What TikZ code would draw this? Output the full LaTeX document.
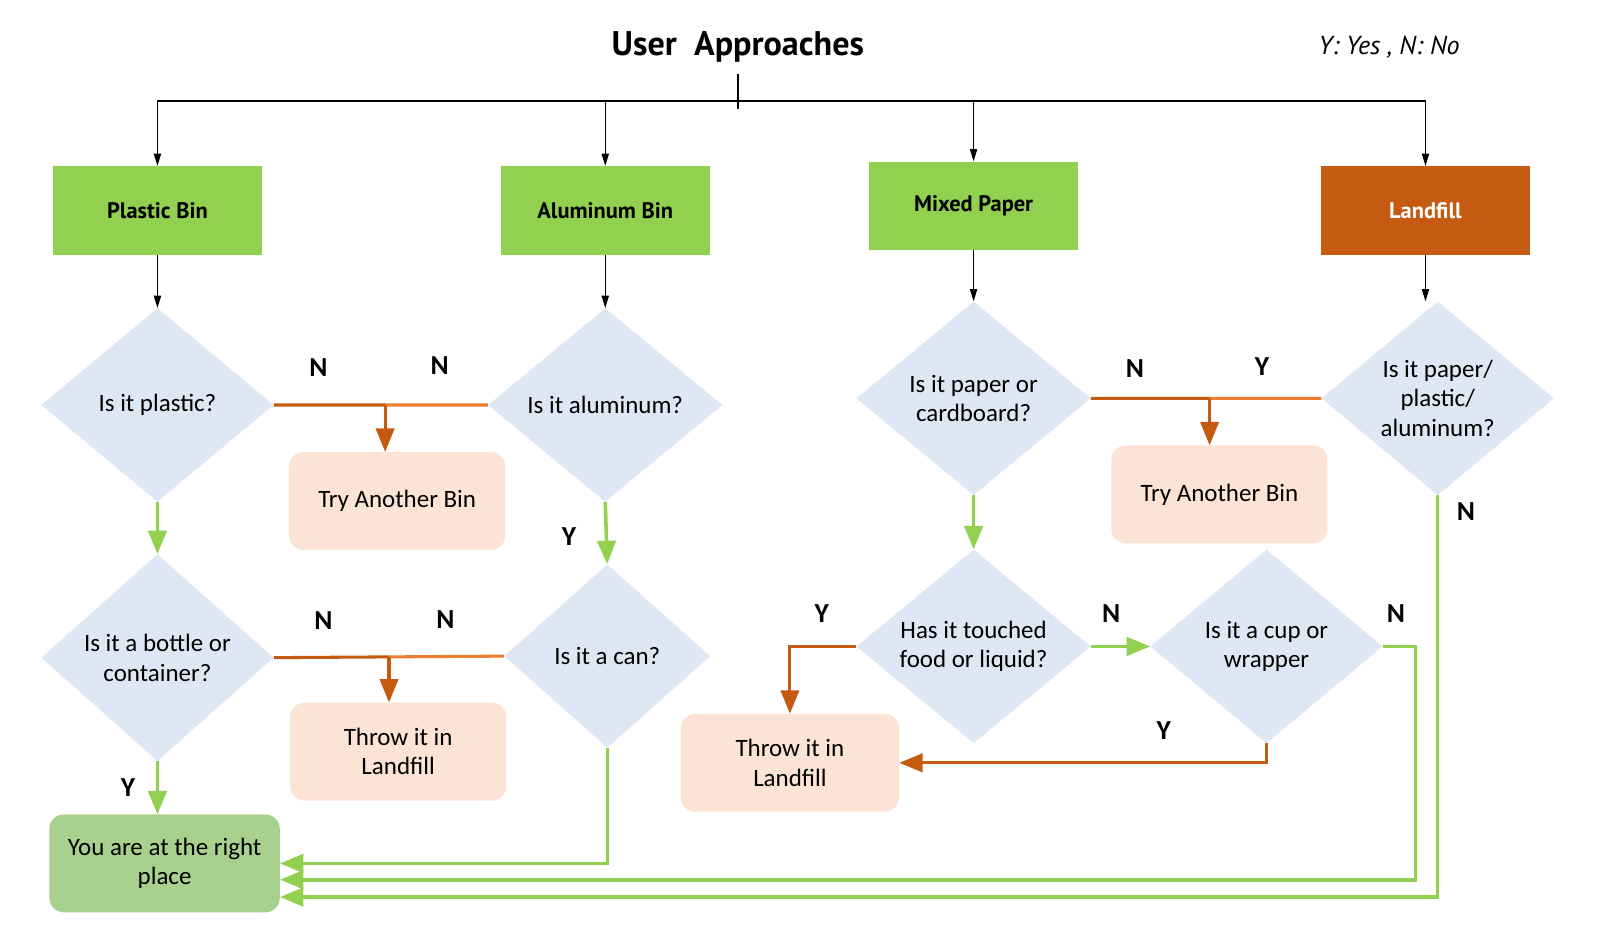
\documentclass[tikz,border=0pt]{standalone}
\usepackage{fontspec}
\setmainfont{Carlito}
\newfontfamily\headfont{PT Sans}
\usepackage{xcolor}
\usepackage{tikz}
\usetikzlibrary{shapes.geometric,arrows.meta}
\usetikzlibrary{positioning,calc}

\definecolor{bingreen}{HTML}{92D050}
\definecolor{binorange}{HTML}{C55A11}
\definecolor{lightorange}{HTML}{ED7D31}
\definecolor{askblue}{HTML}{DEE8F4}
\definecolor{peach}{HTML}{FBE4D5}
\definecolor{okgreen}{HTML}{A9D18E}

\tikzset{
  bin/.style={rectangle, fill=bingreen, minimum width=205pt, minimum height=87pt,
    font=\headfont\fontsize{22}{26}\selectfont\bfseries},
  ask/.style={diamond, fill=askblue, inner sep=0pt, shape aspect=1.2, align=center,
    minimum width=228pt, minimum height=190pt, font=\fontsize{24.5}{29}\selectfont},
  redo/.style={rectangle, rounded corners=14pt, fill=peach, minimum width=212pt,
    minimum height=96pt, align=center, font=\fontsize{24.5}{29}\selectfont},
  yn/.style={inner sep=0pt, font=\fontsize{27}{30}\selectfont\bfseries},
  feed/.style={draw=black, line width=1.3pt, -{Triangle[length=12pt,width=7pt]}},
  yesline/.style={draw=bingreen, line width=3.5pt, -{Triangle[length=23pt,width=18pt]}},
  noline/.style={draw=binorange, line width=3pt, -{Triangle[length=23pt,width=18pt]}},
  noplain/.style={draw=binorange, line width=3pt},
  nolight/.style={draw=lightorange, line width=3pt},
}

\begin{document}
\begin{tikzpicture}[x=1pt,y=-1pt,node distance=50pt]
\useasboundingbox (0,0) rectangle (1568,914.5);
\node[font=\headfont\fontsize{33.5}{38}\selectfont\bfseries] (title) at (724,46) {User\ \ Approaches};
\node[font=\headfont\fontsize{25.5}{30}\selectfont\itshape] (key) at (1363,46) {Y: Yes , N: No};
\coordinate (hub) at (724,99);
% the four bins
\node[bin] (pb) at (154.5,206.5) {Plastic Bin};
\node[bin] (ab) [right=234pt of pb] {Aluminum Bin};
\node[bin] (mp) [right=156pt of ab, yshift=4.5pt] {Mixed Paper};
\node[bin, fill=binorange, text=white] (lf) [right=238pt of mp, yshift=-4.5pt] {Landfill};
% questions
\node[ask] (qp) [below=52pt of pb] {Is it plastic?};
\node[ask, minimum width=230pt] (qa) [below=52pt of ab] {Is it aluminum?};
\node[ask, minimum height=203pt] (qb) [below=51pt of qp] {Is it a bottle or\\container?};
\node[ask, minimum width=202pt, minimum height=180pt] (qc) [below=61pt of qa, xshift=2pt] {Is it a can?};
\node[ask, minimum width=230pt] (qpc) [below=50pt of mp] {Is it paper or\\cardboard?};
\node[ask] (qppa) [below=45.5pt of lf, xshift=12pt] {Is it paper/\\plastic/\\aluminum?};
\node[ask, minimum width=230pt] (qf) [below=53pt of qpc] {Has it touched\\food or liquid?};
\node[ask] (qw) [right=58pt of qf] {Is it a cup or\\wrapper};
% outcomes
\node[redo] (try1) [below=46pt of qp.east, xshift=121pt] {Try Another Bin};
\node[redo] (thr1) [below=44pt of qb.east, xshift=122pt] {Throw it in\\Landfill};
\node[redo] (try2) [below=46pt of qpc.east, xshift=126pt] {Try Another Bin};
\node[redo, minimum width=214pt] (thr2) [below=66pt of qf.west, xshift=-65pt] {Throw it in\\Landfill};
\node[redo, fill=okgreen, minimum width=226pt] (ok) [below=52pt of qb, xshift=7pt] {You are at the right\\place};

\draw[line width=1.3pt] ([yshift=26pt]hub) -- ([yshift=-8pt]hub);
\draw[feed] (hub) -| (pb.north);
\draw[feed] (hub) -| (ab.north);
\draw[feed] (hub) -| (mp.north);
\draw[feed] (hub) -| (lf.north);
\path (pb) edge[feed] (qp);
\path (ab) edge[feed] (qa);
\path (mp) edge[feed] (qpc);
\draw[feed] (lf) -- (lf |- qppa.north);

% plastic and aluminum
\coordinate (j1) at ($(qp.east)!0.52!(qa.west)$);
\draw[noplain] (qp.east) -- node[yn, above=26pt, pos=0.4] {N} (j1);
\draw[nolight] (j1) -- node[yn, above=28pt, pos=0.53] {N} (qa.west);
\draw[noline] (j1) -- (j1 |- try1.north);
\path (qp) edge[yesline] (qb);
\draw[yesline] (qa.south) -- node[yn, left=28pt, pos=0.55] {Y} (qc.north);
\coordinate (j2) at ($(qb.east)!0.5!(qc.west)$);
\draw[noplain] (qb.east) -- node[yn, above=26pt, pos=0.43] {N} (j2);
\draw[nolight] (j2) -- node[yn, above=26pt, pos=0.49] {N} (qc.west);
\draw[noline] (j2) -- (j2 |- thr1.north);
\draw[yesline] (qb) -- node[yn, left=20pt] {Y} (qb |- ok.north);
\draw[yesline] (qc.south) |- (ok.east);

% paper and landfill
\coordinate (j3) at ($(qpc.east)!0.515!(qppa.west)$);
\draw[noplain] (qpc.east) -- node[yn, above=19pt, pos=0.37] {N} (j3);
\draw[nolight] (j3) -- node[yn, above=21pt, pos=0.47] {Y} (qppa.west);
\draw[noline] (j3) -- (j3 |- try2.north);
\path (qpc) edge[yesline] (qf);
\draw[noline] (qf.west) -| node[yn, above=22pt, pos=0.26] {Y} (thr2.north);
\draw[yesline] (qf) -- node[yn, above=22pt, pos=0.34] {N} (qw);
\draw[noline] (qw.south) |- node[yn, above=21pt, pos=0.64] {Y} (thr2.east);
\draw[yesline] (qw.east) -- node[yn, above=22pt, pos=0.4] {N} ++(32,0) |- ([yshift=-16pt]ok.east);
\draw[yesline] (qppa.south) |- node[yn, right=17pt, pos=0.02] {N} ([yshift=-33pt]ok.east);
\end{tikzpicture}
\end{document}
